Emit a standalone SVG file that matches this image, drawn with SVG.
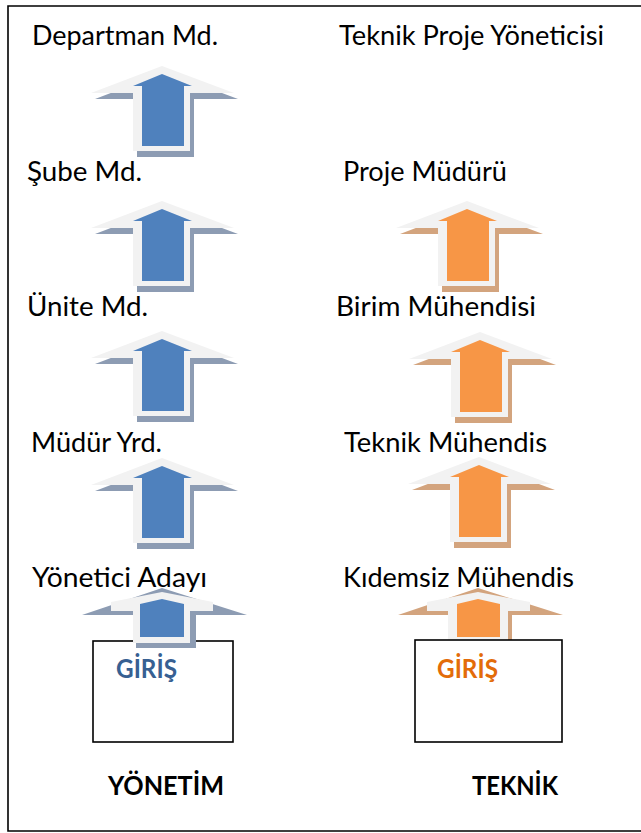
<svg xmlns="http://www.w3.org/2000/svg" xmlns:xlink="http://www.w3.org/1999/xlink" width="641" height="833" viewBox="0 0 641 833">
<style>
.lbl{font-family:Lato,"Open Sans","Liberation Sans",sans-serif;font-size:27px;fill:#000}
.bold{font-family:Lato,"Open Sans","Liberation Sans",sans-serif;font-size:27px;font-weight:700}
.frame{fill:none;stroke:#000;stroke-width:1.6}
.box{fill:#fff;stroke:#000;stroke-width:1.6}
.wht{fill:#f2f2f2}
.shB{fill:#8d9cb3}
.shO{fill:#d3a47e}
.inB{fill:#4f81bd}
.inO{fill:#f79646}
</style>
<defs>
<g id="arrowBlue">
<polygon class="shB" points="4,-21 76,6 32,6 32,64 -25,64 -25,6 -67,6"/>
<polygon class="wht" points="0,-27 72,0 28,0 28,58 -29,58 -29,0 -71,0"/>
<polygon class="inB" points="0,-19 30,-7 22,-7 22,53 -20,53 -20,-7 -29,-7"/>
</g>
<g id="arrowOrange">
<polygon class="shO" points="4,-21 76,6 32,6 32,64 -25,64 -25,6 -67,6"/>
<polygon class="wht" points="0,-27 72,0 28,0 28,58 -29,58 -29,0 -71,0"/>
<polygon class="inO" points="0,-19 30,-7 22,-7 22,53 -20,53 -20,-7 -29,-7"/>
</g>
</defs>
<rect width="641" height="833" fill="#fff"/>
<path class="frame" d="M641,6 H8 V831 H641"/>

<g id="box-yonetim"><rect class="box" x="93" y="641" width="140" height="101"/></g>

<g id="connectors">
<use xlink:href="#arrowBlue" x="162" y="93"/>
<use xlink:href="#arrowBlue" x="162" y="228"/>
<use xlink:href="#arrowBlue" x="162" y="358"/>
<use xlink:href="#arrowBlue" x="162" y="485"/>
<use xlink:href="#arrowOrange" x="467" y="228"/>
<use xlink:href="#arrowOrange" x="480" y="359"/>
<use xlink:href="#arrowOrange" x="479" y="484"/>
<g id="entry-blue">
<polygon class="shB" points="82,615 162,588 247,615 196,615 196,648 136,648 136,615"/>
<polygon class="wht" points="162,592 213,602 213,611 190,611 190,643 133,643 133,611 111,611 111,602"/>
<polygon class="inB" points="140,604 162,599 184,604 184,637 140,637"/>
</g>
<g id="entry-orange">
<polygon class="shO" points="398,615 478,588 563,615 512,615 512,648 452,648 452,615"/>
<polygon class="wht" points="478,592 530,602 530,611 508,611 508,641 448,641 448,611 427,611 427,602"/>
<polygon class="inO" points="457,604 478,599 500,604 500,637 457,637"/>
</g>
</g>

<g id="box-teknik"><rect class="box" x="415" y="640" width="147" height="102"/></g>

<g id="departman-md"><text class="lbl" x="32" y="45" textLength="186" lengthAdjust="spacingAndGlyphs">Departman Md.</text></g>
<g id="teknik-proje-yoneticisi"><text class="lbl" x="339" y="45" textLength="265" lengthAdjust="spacingAndGlyphs">Teknik Proje Yöneticisi</text></g>
<g id="sube-md"><text class="lbl" x="27" y="181" textLength="115" lengthAdjust="spacingAndGlyphs">Şube Md.</text></g>
<g id="proje-muduru"><text class="lbl" x="343" y="181" textLength="164" lengthAdjust="spacingAndGlyphs">Proje Müdürü</text></g>
<g id="unite-md"><text class="lbl" x="27" y="316" textLength="121" lengthAdjust="spacingAndGlyphs">Ünite Md.</text></g>
<g id="birim-muhendisi"><text class="lbl" x="336" y="316" textLength="200" lengthAdjust="spacingAndGlyphs">Birim Mühendisi</text></g>
<g id="mudur-yrd"><text class="lbl" x="31" y="452" textLength="131" lengthAdjust="spacingAndGlyphs">Müdür Yrd.</text></g>
<g id="teknik-muhendis"><text class="lbl" x="344" y="452" textLength="203" lengthAdjust="spacingAndGlyphs">Teknik Mühendis</text></g>
<g id="yonetici-adayi"><text class="lbl" x="32" y="587" textLength="175" lengthAdjust="spacingAndGlyphs">Yönetici Adayı</text></g>
<g id="kidemsiz-muhendis"><text class="lbl" x="343" y="587" textLength="231" lengthAdjust="spacingAndGlyphs">Kıdemsiz Mühendis</text></g>

<g id="giris-yonetim"><text class="bold" x="116" y="678" fill="#376092" textLength="61" lengthAdjust="spacingAndGlyphs">GİRİŞ</text></g>
<g id="giris-teknik"><text class="bold" x="437" y="678" fill="#e36c09" textLength="61" lengthAdjust="spacingAndGlyphs">GİRİŞ</text></g>
<g id="yonetim"><text class="bold" x="108" y="795" fill="#000" textLength="116" lengthAdjust="spacingAndGlyphs">YÖNETİM</text></g>
<g id="teknik"><text class="bold" x="472" y="795" fill="#000" textLength="86" lengthAdjust="spacingAndGlyphs">TEKNİK</text></g>
</svg>
